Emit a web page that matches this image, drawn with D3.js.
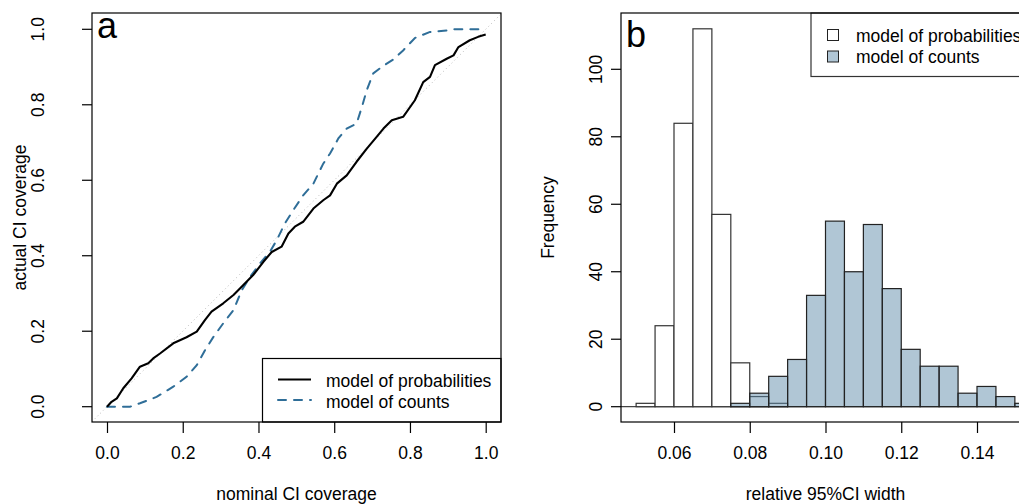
<!DOCTYPE html>
<html><head><meta charset="utf-8">
<script src="https://cdn.jsdelivr.net/npm/d3@7"></script>
<style>body{margin:0;background:#fff} text{font-family:"Liberation Sans",Arial,Helvetica,sans-serif}</style>
</head><body><svg id="c" width="1019" height="504"></svg>
<script>
// ---------- Panel a data: coverage curves ----------
const probX = [0,0.012,0.026,0.043,0.065,0.087,0.109,0.122,0.14,0.175,0.21,0.237,0.259,0.276,0.307,0.334,0.351,0.386,0.413,0.435,0.461,0.479,0.496,0.518,0.545,0.571,0.589,0.607,0.633,0.659,0.686,0.712,0.730,0.752,0.782,0.813,0.835,0.853,0.866,0.897,0.915,0.928,0.958,0.980,1.0];
const probY = [0,0.013,0.022,0.049,0.075,0.106,0.115,0.128,0.141,0.168,0.184,0.199,0.23,0.252,0.274,0.296,0.313,0.349,0.384,0.41,0.424,0.459,0.477,0.49,0.525,0.547,0.56,0.591,0.613,0.649,0.684,0.715,0.737,0.759,0.768,0.812,0.860,0.874,0.905,0.922,0.931,0.953,0.971,0.980,0.986];
const countX = [0,0.061,0.087,0.131,0.175,0.21,0.237,0.259,0.281,0.307,0.334,0.356,0.378,0.404,0.430,0.448,0.470,0.492,0.518,0.545,0.571,0.589,0.611,0.633,0.659,0.673,0.686,0.703,0.725,0.756,0.782,0.813,0.853,0.897,0.915,1.0];
const countY = [0,0,0.009,0.026,0.053,0.079,0.11,0.15,0.185,0.221,0.256,0.309,0.344,0.38,0.41,0.441,0.486,0.521,0.56,0.591,0.644,0.671,0.711,0.737,0.75,0.794,0.839,0.883,0.900,0.920,0.944,0.977,0.993,0.997,1.0,1.0];
const aTicks = [0,0.2,0.4,0.6,0.8,1.0];
const aLegend = ["model of probabilities","model of counts"];

// ---------- Panel b data: histograms ----------
const probBins  = [0.050,0.055,0.060,0.065,0.070,0.075,0.080,0.085];
const probCounts = [1,24,84,112,57,13,3,1];
const countBins = [0.075,0.080,0.085,0.090,0.095,0.100,0.105,0.110,0.115,0.120,0.125,0.130,0.135,0.140,0.145,0.150];
const countCounts = [1,4,9,14,33,55,40,54,35,17,12,12,4,6,3,1];
const binWidth = 0.005;
const bXTicks = [0.06,0.08,0.10,0.12,0.14];
const bYTicks = [0,20,40,60,80,100];
const bLegend = ["model of probabilities","model of counts"];

const svg = d3.select("#c");
const FS = 17.5;
const blue = "#2f6e98";

// ---------- Panel a ----------
const A = {l:92, r:501, t:13, b:422};
const xa = d3.scaleLinear().domain([0,1]).range([107,485.7]);
const ya = d3.scaleLinear().domain([0,1]).range([406.7,29.3]);
const ga = svg.append("g");
ga.append("defs").append("clipPath").attr("id","clipA").append("rect")
  .attr("x",A.l).attr("y",A.t).attr("width",A.r-A.l).attr("height",A.b-A.t);
// diagonal
ga.append("line").attr("clip-path","url(#clipA)")
  .attr("x1",xa(-0.1)).attr("y1",ya(-0.1)).attr("x2",xa(1.1)).attr("y2",ya(1.1))
  .attr("stroke","#bbb").attr("stroke-width",1).attr("stroke-dasharray","1,3");
const lineA = (xs,ys)=>d3.line().x((d,i)=>xa(xs[i])).y((d,i)=>ya(ys[i]))(xs);
ga.append("path").attr("d",lineA(countX,countY)).attr("fill","none")
  .attr("stroke",blue).attr("stroke-width",2).attr("stroke-dasharray","8,8").attr("stroke-linecap","round");
ga.append("path").attr("d",lineA(probX,probY)).attr("fill","none")
  .attr("stroke","#000").attr("stroke-width",2.1).attr("stroke-linejoin","round");
// legend a
const lgA = ga.append("g");
lgA.append("rect").attr("x",262.5).attr("y",358.5).attr("width",A.r-262.5).attr("height",A.b-358.5)
  .attr("fill","#fff").attr("stroke","#000").attr("stroke-width",1.2);
lgA.append("line").attr("x1",278).attr("x2",311).attr("y1",379.5).attr("y2",379.5).attr("stroke","#000").attr("stroke-width",2.1);
lgA.append("line").attr("x1",278).attr("x2",311).attr("y1",400).attr("y2",400).attr("stroke",blue).attr("stroke-width",2)
  .attr("stroke-dasharray","8,8").attr("stroke-linecap","round");
aLegend.forEach((t,i)=>lgA.append("text").attr("x",326).attr("y",386.5+i*21).attr("font-size",FS).attr("fill","#000").text(t));
// box
ga.append("rect").attr("x",A.l).attr("y",A.t).attr("width",A.r-A.l).attr("height",A.b-A.t)
  .attr("fill","none").attr("stroke","#000").attr("stroke-width",1.2);
// x axis
const axA = ga.append("g").attr("transform",`translate(0,${A.b})`)
  .call(d3.axisBottom(xa).tickValues(aTicks).tickSize(11).tickPadding(14).tickFormat(d3.format(".1f")));
axA.select(".domain").remove();
axA.selectAll("line").attr("stroke","#000").attr("stroke-width",1.2);
axA.selectAll("text").attr("font-size",FS).attr("font-family",null).attr("fill","#000");
// y axis
aTicks.forEach(v=>{
  ga.append("line").attr("x1",A.l-10).attr("x2",A.l).attr("y1",ya(v)).attr("y2",ya(v)).attr("stroke","#000").attr("stroke-width",1.2);
  ga.append("text").attr("transform",`translate(44,${ya(v)}) rotate(-90)`).attr("text-anchor","middle")
    .attr("font-size",FS).attr("fill","#000").text(d3.format(".1f")(v));
});
ga.append("text").attr("transform",`translate(26,${(A.t+A.b)/2}) rotate(-90)`).attr("text-anchor","middle")
  .attr("font-size",FS).text("actual CI coverage");
ga.append("text").attr("x",(A.l+A.r)/2).attr("y",500).attr("text-anchor","middle").attr("font-size",FS).text("nominal CI coverage");
ga.append("text").attr("x",97).attr("y",38).attr("font-size",36).text("a");

// ---------- Panel b ----------
const B = {l:621, r:1030, t:13, b:422};
const xb = d3.scaleLinear().domain([0.06,0.14]).range([674,977]);
const yb = d3.scaleLinear().domain([0,100]).range([406.7,69.3]);
const gb = svg.append("g");
gb.append("defs").append("clipPath").attr("id","clipB").append("rect")
  .attr("x",B.l).attr("y",B.t).attr("width",B.r-B.l).attr("height",B.b-B.t);
const bars = gb.append("g").attr("clip-path","url(#clipB)");
bars.append("line").attr("x1",B.l).attr("x2",B.r).attr("y1",yb(0)).attr("y2",yb(0)).attr("stroke","#444").attr("stroke-width",1.2);
bars.selectAll("rect.p").data(probBins).enter().append("rect").attr("class","p")
  .attr("x",d=>xb(d)).attr("width",d=>xb(d+binWidth)-xb(d))
  .attr("y",(d,i)=>yb(probCounts[i])).attr("height",(d,i)=>yb(0)-yb(probCounts[i]))
  .attr("fill","#fff").attr("stroke","#333").attr("stroke-width",1.2);
bars.selectAll("rect.c").data(countBins).enter().append("rect").attr("class","c")
  .attr("x",d=>xb(d)).attr("width",d=>xb(d+binWidth)-xb(d))
  .attr("y",(d,i)=>yb(countCounts[i])).attr("height",(d,i)=>yb(0)-yb(countCounts[i]))
  .attr("fill","rgb(98,142,172)").attr("fill-opacity",0.5).attr("stroke","#222").attr("stroke-width",1.2);
// legend b
const lgB = gb.append("g");
lgB.append("rect").attr("x",811).attr("y",B.t).attr("width",B.r-811).attr("height",76.5-B.t)
  .attr("fill","#fff").attr("stroke","#333").attr("stroke-width",1.2);
const lgFill = [{f:"#fff",o:1},{f:"rgb(98,142,172)",o:0.5}];
bLegend.forEach((t,i)=>{
  const by = 41.5+i*21.5;
  lgB.append("rect").attr("x",827.5).attr("y",by-12).attr("width",11).attr("height",11)
    .attr("fill",lgFill[i].f).attr("fill-opacity",lgFill[i].o).attr("stroke","#222").attr("stroke-width",1);
  lgB.append("text").attr("x",856).attr("y",by).attr("font-size",FS).text(t);
});
// box
gb.append("rect").attr("x",B.l).attr("y",B.t).attr("width",B.r-B.l).attr("height",B.b-B.t)
  .attr("fill","none").attr("stroke","#000").attr("stroke-width",1.2);
const axB = gb.append("g").attr("transform",`translate(0,${B.b})`)
  .call(d3.axisBottom(xb).tickValues(bXTicks).tickSize(11).tickPadding(14).tickFormat(d3.format(".2f")));
axB.select(".domain").remove();
axB.selectAll("line").attr("stroke","#000").attr("stroke-width",1.2);
axB.selectAll("text").attr("font-size",FS).attr("font-family",null).attr("fill","#000");
bYTicks.forEach(v=>{
  gb.append("line").attr("x1",B.l-10).attr("x2",B.l).attr("y1",yb(v)).attr("y2",yb(v)).attr("stroke","#000").attr("stroke-width",1.2);
  gb.append("text").attr("transform",`translate(602,${yb(v)}) rotate(-90)`).attr("text-anchor","middle")
    .attr("font-size",FS).attr("fill","#000").text(v);
});
gb.append("text").attr("transform",`translate(554,${(B.t+B.b)/2}) rotate(-90)`).attr("text-anchor","middle")
  .attr("font-size",FS).text("Frequency");
gb.append("text").attr("x",(B.l+B.r)/2).attr("y",500).attr("text-anchor","middle").attr("font-size",FS).text("relative 95%CI width");
gb.append("text").attr("x",626).attr("y",47).attr("font-size",36).text("b");
</script></body></html>
